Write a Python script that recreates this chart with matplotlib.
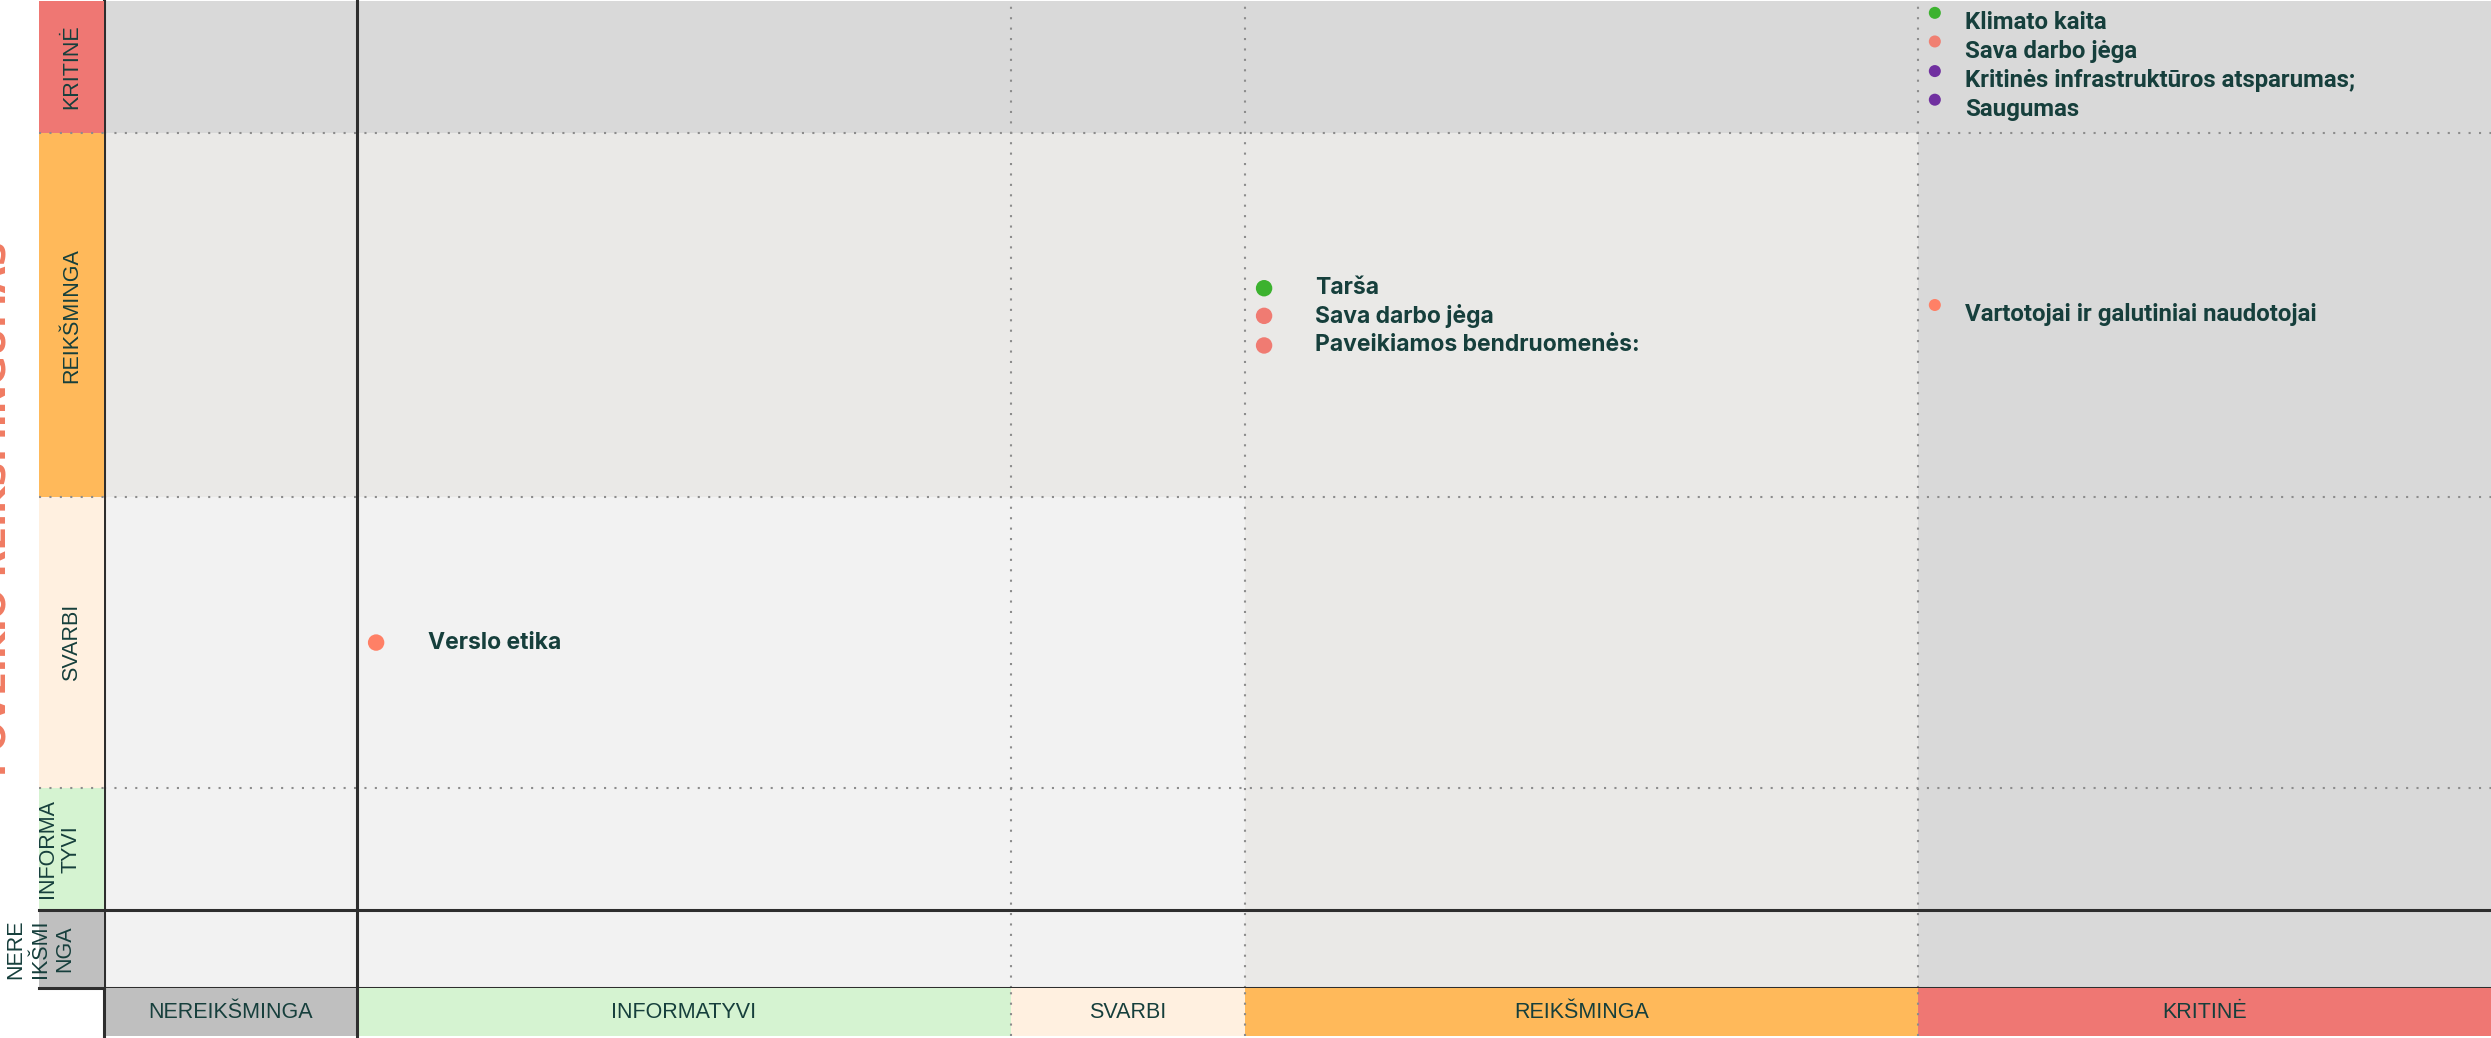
import numpy as np
import matplotlib.pyplot as plt

# Lygiai (ašys)
lygiai = ['NEREIKŠMINGA', 'INFORMATYVI', 'SVARBI', 'REIKŠMINGA', 'KRITINĖ']
lygiai_y = ['NERE\nIKŠMI\nNGA', 'INFORMA\nTYVI', 'SVARBI', 'REIKŠMINGA', 'KRITINĖ']
lygiu_spalvos = ['#bfbfbf', '#d5f3d1', '#fff0e0', '#ffb95a', '#ef7773']

# Ribos skalėje 0-100
x_ribos = [0, 10.6, 38.0, 47.8, 76.0, 100]
y_ribos = [0, 7.9, 20.3, 49.7, 86.6, 100]

# Temos (x - finansinis, y - poveikio)
grupe1_temos = ['Verslo etika', 'Tarša', 'Sava darbo jėga', 'Paveikiamos bendruomenės:']
grupe1_x = [11.4, 48.6, 48.6, 48.6]
grupe1_y = [35.0, 70.9, 68.1, 65.1]
grupe1_spalvos = ['#ff8066', '#3cb22f', '#f07b72', '#f07b72']

grupe2_temos = ['Vartotojai ir galutiniai naudotojai', 'Klimato kaita', 'Sava darbo jėga',
                'Kritinės infrastruktūros atsparumas;', 'Saugumas']
grupe2_x = [76.7, 76.7, 76.7, 76.7, 76.7]
grupe2_y = [69.2, 98.8, 95.9, 92.9, 90.0]
grupe2_spalvos = ['#ff8066', '#3cb22f', '#f08072', '#7030a0', '#7030a0']

TEKSTAS = '#163f3c'
W, H = 2491, 1038

fig = plt.figure(figsize=(W / 100, H / 100), dpi=100)


def px_axes(x0, y0, x1, y1, **kw):
    return fig.add_axes([x0 / W, 1 - y1 / H, (x1 - x0) / W, (y1 - y0) / H], **kw)


ax = px_axes(104, 1, 2491, 988)
ax_bot = px_axes(104, 988, 2491, 1036, sharex=ax)
ax_left = px_axes(39, 1, 104, 988, sharey=ax)
for a in (ax, ax_bot, ax_left):
    a.axis('off')
ax.set_xlim(0, 100)
ax.set_ylim(0, 100)
ax_bot.set_ylim(0, 1)
ax_left.set_xlim(0, 1)

# Langelių fonas
fonai = ['#f2f2f2', '#f2f2f2', '#f2f2f2', '#eae9e7', '#d9d9d9']
for i in range(5):
    for j in range(5):
        ax.add_patch(plt.Rectangle((x_ribos[i], y_ribos[j]),
                                   x_ribos[i + 1] - x_ribos[i],
                                   y_ribos[j + 1] - y_ribos[j],
                                   color=fonai[max(i, j)], lw=0, zorder=0))

# Apatinė ir kairė juostos
plotis = np.diff(x_ribos)
aukstis = np.diff(y_ribos)
ax_bot.bar(x_ribos[:-1], 1, width=plotis, align='edge', color=lygiu_spalvos, lw=0)
ax_left.barh(y_ribos[:-1], 1, height=aukstis, align='edge', color=lygiu_spalvos, lw=0)
for i in range(5):
    ax_bot.text(x_ribos[i] + plotis[i] / 2, 0.5, lygiai[i], ha='center', va='center',
                fontsize=15.5, color=TEKSTAS, family='Liberation Sans')
xs = [0.02, 0.31, 0.5, 0.5, 0.5]
for j in range(5):
    ax_left.text(xs[j], y_ribos[j] + aukstis[j] / 2, lygiai_y[j], rotation=90,
                 ha='center', va='center', fontsize=15.5, color=TEKSTAS,
                 family='Liberation Sans', linespacing=1.2, clip_on=False)

# Linijos
taskuota = dict(color='#8c8c8c', lw=1.5, linestyle=(0, (1, 4)), clip_on=False, zorder=3)
vientisa = dict(color='#2e2e2e', lw=2.2, clip_on=False, zorder=4)
for k, xv in enumerate(x_ribos[:-1]):
    st = vientisa if k < 2 else taskuota
    ax.axvline(xv, **st)
    ax_bot.axvline(xv, **st)
for k, yv in enumerate(y_ribos[:-1]):
    st = vientisa if k < 2 else taskuota
    ax.axhline(yv, **st)
    ax_left.axhline(yv, **st)

# Taškai ir užrašai
ax.scatter(grupe1_x, grupe1_y, s=140, color=grupe1_spalvos, zorder=5, clip_on=False, lw=0)
for t, xv, yv in zip(grupe1_temos, grupe1_x, grupe1_y):
    ax.annotate(t, (xv, yv), xytext=(37, 0), textcoords='offset points', ha='left',
                va='center', fontsize=16.5, fontweight='bold', color=TEKSTAS, family='Inter')
ax.scatter(grupe2_x, grupe2_y, s=75, color=grupe2_spalvos, zorder=5, clip_on=False, lw=0)
for t, xv, yv in zip(grupe2_temos, grupe2_x, grupe2_y):
    ax.annotate(t, (xv, yv), xytext=(22, -7), textcoords='offset points', ha='left',
                va='center', fontsize=17.3, fontweight='bold', color=TEKSTAS, family='Roboto')

# Ašies pavadinimas (nukirptas kairėje)
fig.text(-4 / W, 1 - 508 / H, 'POVEIKIO REIKŠMINGUMAS', rotation=90, ha='center', va='center',
         fontsize=25, fontweight='bold', color='#f07b62')

plt.savefig('out.png', dpi=100)
